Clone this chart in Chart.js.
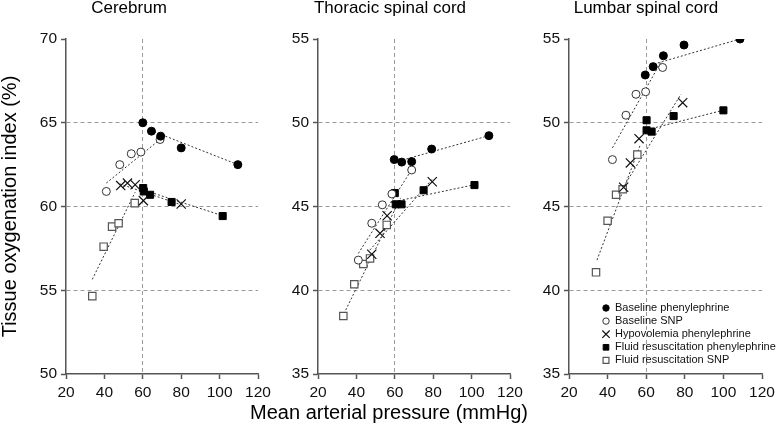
<!DOCTYPE html>
<html>
<head>
<meta charset="utf-8">
<script src="https://cdn.jsdelivr.net/npm/chart.js@4.4.1/dist/chart.umd.min.js"></script>
<style>
html, body { margin: 0; padding: 0; background: #fff; overflow: hidden; }
#wrap { position: relative; width: 778px; height: 448px; overflow: hidden; background: #fff; }
.panel { position: absolute; top: 0; height: 410px; }
#xtitle { position: absolute; left: 0; width: 778px; top: 400px; text-align: center;
  font: 20px "Liberation Sans", Arial, sans-serif; line-height: 24px; color: #000; }
</style>
</head>
<body>
<div id="wrap">
  <div class="panel" style="left:0;width:334px"><canvas id="c1"></canvas></div>
  <div class="panel" style="left:270px;width:308px"><canvas id="c2"></canvas></div>
  <div class="panel" style="left:530px;width:280px"><canvas id="c3"></canvas></div>
  <div id="xtitle">Mean arterial pressure (mmHg)</div>
</div>
<script>
// series names (legend) and panel titles
var seriesNames = ['Baseline phenylephrine', 'Baseline SNP', 'Hypovolemia phenylephrine',
  'Fluid resuscitation phenylephrine', 'Fluid resuscitation SNP'];
var panelTitles = ['Cerebrum', 'Thoracic spinal cord', 'Lumbar spinal cord'];
var xTicks = [20, 40, 60, 80, 100, 120];
var yTicksCerebrum = [50, 55, 60, 65, 70];
var yTicksSpinal = [35, 40, 45, 50, 55];

// --- Cerebrum ---
var cerBasePheX = [60, 64.5, 69.3, 80, 109.5];
var cerBasePheY = [65.0, 64.5, 64.2, 63.5, 62.5];
var cerBaseSnpX = [41, 48, 54, 59, 69];
var cerBaseSnpY = [60.9, 62.5, 63.15, 63.25, 64.0];
var cerHypoPheX = [48.5, 52, 56, 60.3, 80];
var cerHypoPheY = [61.25, 61.4, 61.3, 60.35, 60.15];
var cerFluidPheX = [60.2, 60.5, 63.8, 75, 101.6];
var cerFluidPheY = [61.1, 60.9, 60.7, 60.27, 59.43];
var cerFluidSnpX = [33.7, 39.6, 44, 47.4, 55.8];
var cerFluidSnpY = [54.65, 57.6, 58.8, 59.0, 60.2];
// trend lines: [start, end]
var cerBasePheFitX = [64, 109.5], cerBasePheFitY = [64.55, 62.5];
var cerBaseSnpFitX = [41, 69], cerBaseSnpFitY = [61.4, 64.0];
var cerHypoPheFitX = [48, 80], cerHypoPheFitY = [61.35, 60.1];
var cerFluidPheFitX = [60, 101.6], cerFluidPheFitY = [61.0, 59.45];
var cerFluidSnpFitX = [33.7, 56], cerFluidSnpFitY = [55.65, 60.85];

// --- Thoracic spinal cord ---
var thoBasePheX = [59.7, 63.6, 68.8, 79.2, 109];
var thoBasePheY = [47.8, 47.65, 47.68, 48.43, 49.23];
var thoBaseSnpX = [41, 48, 53.5, 58.5, 68.8];
var thoBaseSnpY = [41.8, 44.0, 45.1, 45.75, 47.18];
var thoHypoPheX = [48, 52.3, 56, 79.5];
var thoHypoPheY = [42.15, 43.4, 44.45, 46.48];
var thoFluidPheX = [60, 60.5, 63.5, 75, 101.5];
var thoFluidPheY = [45.8, 45.13, 45.13, 45.97, 46.28];
var thoFluidSnpX = [33.2, 38.9, 43.6, 47.1, 55.8];
var thoFluidSnpY = [38.46, 40.36, 41.57, 41.9, 43.9];
var thoBasePheFitX = [64, 109], thoBasePheFitY = [47.77, 49.23];
var thoBaseSnpFitX = [41, 68.8], thoBaseSnpFitY = [42.2, 47.2];
var thoHypoPheFitX = [47, 80], thoHypoPheFitY = [42.4, 46.7];
var thoFluidPheFitX = [58, 101.5], thoFluidPheFitY = [45.25, 46.3];
var thoFluidSnpFitX = [33.5, 63], thoFluidSnpFitY = [38.6, 45.5];

// --- Lumbar spinal cord ---
var lumBasePheX = [59.5, 63.6, 68.9, 79.6, 108.6];
var lumBasePheY = [52.85, 53.35, 54.0, 54.64, 55.0];
var lumBaseSnpX = [42.5, 49.5, 54.7, 59.7, 68.5];
var lumBaseSnpY = [47.8, 50.45, 51.7, 51.85, 53.3];
var lumHypoPheX = [48.3, 51.8, 56.3, 78.9];
var lumHypoPheY = [46.15, 47.6, 49.05, 51.2];
var lumFluidPheX = [60.2, 60.2, 62.8, 74.2, 100];
var lumFluidPheY = [50.15, 49.55, 49.47, 50.4, 50.74];
var lumFluidSnpX = [34, 40, 44.4, 47.8, 55.4];
var lumFluidSnpY = [41.07, 44.15, 45.7, 46.03, 48.1];
var lumBasePheFitX = [64, 108.6], lumBasePheFitY = [53.5, 55.0];
var lumBaseSnpFitX = [42.5, 67.5], lumBaseSnpFitY = [48.5, 53.6];
var lumHypoPheFitX = [47.3, 78], lumHypoPheFitY = [46.0, 51.7];
var lumFluidPheFitX = [61, 100], lumFluidPheFitY = [49.6, 50.75];
var lumFluidSnpFitX = [34.5, 57], lumFluidSnpFitY = [41.8, 48.7];

var FONT = '"Liberation Sans", Arial, sans-serif';

// marker look for each series (same order as seriesNames)
var markerStyles = [
  { pointStyle: 'circle', radius: 4, bg: '#000', border: '#000', width: 1 },
  { pointStyle: 'circle', radius: 4, bg: '#fff', border: '#333', width: 1 },
  { pointStyle: 'crossRot', radius: 6.5, bg: '#000', border: '#111', width: 1.2 },
  { pointStyle: 'rect', radius: 5, bg: '#000', border: '#000', width: 1 },
  { pointStyle: 'rect', radius: 5.2, bg: '#fff', border: '#555', width: 1.2 }
];

function toPoints(xs, ys) {
  var pts = [];
  for (var i = 0; i < xs.length; i++) pts.push({ x: xs[i], y: ys[i] });
  return pts;
}

function drawMarker(ctx, st, x, y, k) {
  var r = st.radius * k;
  ctx.save();
  ctx.lineWidth = st.width;
  ctx.strokeStyle = st.border;
  ctx.fillStyle = st.bg;
  ctx.beginPath();
  if (st.pointStyle === 'circle') {
    ctx.arc(x, y, r, 0, Math.PI * 2);
    ctx.fill(); ctx.stroke();
  } else if (st.pointStyle === 'rect') {
    var s = r * Math.SQRT1_2;
    ctx.rect(x - s, y - s, 2 * s, 2 * s);
    ctx.fill(); ctx.stroke();
  } else {
    var o = r * Math.SQRT1_2;
    ctx.moveTo(x - o, y - o); ctx.lineTo(x + o, y + o);
    ctx.moveTo(x - o, y + o); ctx.lineTo(x + o, y - o);
    ctx.stroke();
  }
  ctx.restore();
}

var legendPlugin = {
  id: 'panelLegend',
  afterDatasetsDraw: function (chart, args, opts) {
    if (!opts.show) return;
    var ctx = chart.ctx, a = chart.chartArea;
    ctx.save();
    ctx.font = '11px ' + FONT;
    ctx.textBaseline = 'middle';
    for (var i = 0; i < seriesNames.length; i++) {
      var x = a.left + 37, y = a.top + 269 + i * 13.1;
      drawMarker(ctx, markerStyles[i], x, y, 0.8);
      ctx.fillStyle = '#111';
      ctx.fillText(seriesNames[i], x + 9, y);
    }
    ctx.restore();
  }
};

function makePanel(id, title, yTicks, yWidth, padRight, series, fits, yTitle, legend) {
  var yMin = yTicks[0], yMax = yTicks[yTicks.length - 1];
  var datasets = [];
  for (var i = 0; i < series.length; i++) {
    var st = markerStyles[i];
    datasets.push({
      label: seriesNames[i],
      data: toPoints(series[i][0], series[i][1]),
      showLine: false,
      pointStyle: st.pointStyle,
      pointRadius: st.radius,
      pointBackgroundColor: st.bg,
      pointBorderColor: st.border,
      pointBorderWidth: st.width,
      order: 0
    });
  }
  for (var j = 0; j < fits.length; j++) {
    datasets.push({
      label: seriesNames[j] + ' fit',
      data: toPoints(fits[j][0], fits[j][1]),
      showLine: true,
      pointRadius: 0,
      borderColor: '#333',
      borderWidth: 1,
      borderDash: [2, 2],
      order: 1
    });
  }
  return new Chart(document.getElementById(id), {
    type: 'scatter',
    data: { datasets: datasets },
    plugins: [legendPlugin],
    options: {
      responsive: true,
      maintainAspectRatio: false,
      animation: false,
      layout: { padding: { left: 0, top: 0, right: padRight, bottom: 0 } },
      plugins: {
        legend: { display: false },
        tooltip: { enabled: false },
        title: { display: true, text: title, color: '#000',
          font: { family: FONT, size: 17, weight: 'normal', lineHeight: 1 }, padding: { top: 0, bottom: 22 } },
        panelLegend: { show: legend }
      },
      scales: {
        x: {
          type: 'linear', min: xTicks[0], max: xTicks[xTicks.length - 1],
          afterFit: function (s) { s.height = 36; },
          afterBuildTicks: function (s) { s.ticks = xTicks.map(function (v) { return { value: v }; }); },
          ticks: { color: '#111', padding: 4, font: { family: FONT, size: 15.5 } },
          grid: {
            color: function (c) { return c.tick && c.tick.value === 60 ? '#9a9a9a' : 'rgba(0,0,0,0)'; },
            lineWidth: 1, tickLength: 5, tickColor: '#555', tickWidth: 1.5
          },
          border: { color: '#555', width: 1.5, dash: [4, 3] }
        },
        y: {
          type: 'linear', min: yMin, max: yMax,
          afterFit: function (s) { s.width = yWidth; },
          afterBuildTicks: function (s) { s.ticks = yTicks.map(function (v) { return { value: v }; }); },
          ticks: { color: '#111', padding: 4, font: { family: FONT, size: 15.5 } },
          grid: {
            color: function (c) {
              return c.tick && c.tick.value > yMin && c.tick.value < yMax ? '#9a9a9a' : 'rgba(0,0,0,0)';
            },
            lineWidth: 1, tickLength: 5, tickColor: '#555', tickWidth: 1.5
          },
          border: { color: '#555', width: 1.5, dash: [4, 3] },
          title: { display: !!yTitle, text: yTitle || '', color: '#000',
            font: { family: FONT, size: 20, lineHeight: 1 }, padding: 0 }
        }
      }
    }
  });
}

makePanel('c1', panelTitles[0], yTicksCerebrum, 66, 76,
  [[cerBasePheX, cerBasePheY], [cerBaseSnpX, cerBaseSnpY], [cerHypoPheX, cerHypoPheY],
   [cerFluidPheX, cerFluidPheY], [cerFluidSnpX, cerFluidSnpY]],
  [[cerBasePheFitX, cerBasePheFitY], [cerBaseSnpFitX, cerBaseSnpFitY], [cerHypoPheFitX, cerHypoPheFitY],
   [cerFluidPheFitX, cerFluidPheFitY], [cerFluidSnpFitX, cerFluidSnpFitY]],
  'Tissue oxygenation index (%)', false);

makePanel('c2', panelTitles[1], yTicksSpinal, 48, 68,
  [[thoBasePheX, thoBasePheY], [thoBaseSnpX, thoBaseSnpY], [thoHypoPheX, thoHypoPheY],
   [thoFluidPheX, thoFluidPheY], [thoFluidSnpX, thoFluidSnpY]],
  [[thoBasePheFitX, thoBasePheFitY], [thoBaseSnpFitX, thoBaseSnpFitY], [thoHypoPheFitX, thoHypoPheFitY],
   [thoFluidPheFitX, thoFluidPheFitY], [thoFluidSnpFitX, thoFluidSnpFitY]],
  null, false);

makePanel('c3', panelTitles[2], yTicksSpinal, 39, 48,
  [[lumBasePheX, lumBasePheY], [lumBaseSnpX, lumBaseSnpY], [lumHypoPheX, lumHypoPheY],
   [lumFluidPheX, lumFluidPheY], [lumFluidSnpX, lumFluidSnpY]],
  [[lumBasePheFitX, lumBasePheFitY], [lumBaseSnpFitX, lumBaseSnpFitY], [lumHypoPheFitX, lumHypoPheFitY],
   [lumFluidPheFitX, lumFluidPheFitY], [lumFluidSnpFitX, lumFluidSnpFitY]],
  null, true);
</script>
</body>
</html>
